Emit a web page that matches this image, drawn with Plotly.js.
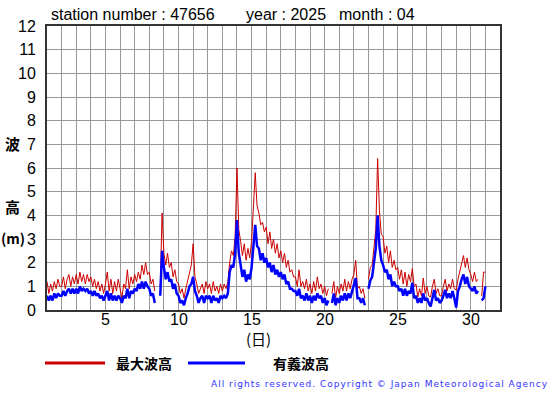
<!DOCTYPE html>
<html>
<head>
<meta charset="utf-8">
<script src="https://cdn.plot.ly/plotly-3.0.1.min.js"></script>
<style>
html,body{margin:0;padding:0;background:#fff;}
#chart{width:555px;height:395px;}
</style>
</head>
<body>
<div id="chart"></div>
<script>
// 3-hourly readings, from 1 Apr 00:00 to 1 May 00:00 (x = day of month)
const stepsPerDay = 8;
const startDay = 1;
const maxWave = [
  1.2,0.7,1.1,0.8,1.2,0.9,1.3,1.0,
  1.0,1.4,0.9,1.3,1.5,1.0,1.4,1.1,
  1.5,1.1,1.6,1.2,1.5,1.1,1.5,1.2,
  1.4,1.0,1.3,0.9,1.2,0.8,1.1,0.7,
  1.1,1.6,0.8,1.3,0.7,1.2,0.8,1.3,
  0.9,0.5,1.1,0.9,1.7,0.9,1.4,1.1,
  1.5,1.2,1.6,1.3,1.9,1.5,2.0,1.5,
  1.6,1.1,1.3,0.8,null,null,1.0,4.1,
  2.4,1.9,2.4,1.8,2.0,1.4,1.7,1.2,
  1.1,0.7,0.9,0.5,0.9,1.2,1.6,1.9,
  2.8,1.4,1.1,0.7,0.9,1.1,0.7,1.2,
  0.9,1.1,0.7,1.2,0.8,1.0,0.7,1.1,
  0.8,1.1,0.9,1.2,2.0,2.5,2.3,3.1,
  6.0,3.4,2.9,2.3,2.8,2.1,2.6,2.2,
  2.9,4.2,5.8,4.4,4.1,3.6,3.7,3.3,
  3.5,2.8,3.3,2.6,3.0,2.4,2.8,2.2,
  2.5,2.0,2.4,1.8,2.1,1.6,1.7,1.4,
  1.4,1.0,1.7,1.0,1.2,0.9,1.3,0.8,
  1.1,0.7,1.2,0.8,1.4,0.9,1.1,0.7,
  1.0,0.6,0.9,null,0.7,1.2,0.5,1.0,
  0.7,1.1,0.8,1.3,0.8,1.2,0.9,1.3,
  1.5,2.1,0.9,1.0,0.7,0.9,0.5,null,
  1.3,1.8,1.9,2.6,3.4,6.4,4.2,3.2,
  3.1,2.4,2.7,2.0,2.5,1.8,2.1,1.7,
  1.8,1.3,1.7,1.1,1.6,1.0,1.5,1.2,
  1.75,1.0,1.1,0.55,0.9,0.6,1.35,0.7,
  1.0,0.6,0.55,1.0,1.3,0.7,0.9,0.6,
  0.6,1.0,1.3,0.8,1.1,0.9,1.3,0.9,
  0.85,1.3,1.6,2.0,2.3,1.8,2.2,1.7,
  1.5,1.2,1.6,1.2,1.3,null,0.6,1.6,
  1.6
];
const sigWave = [
  0.6,0.4,0.6,0.4,0.7,0.5,0.7,0.6,
  0.6,0.8,0.6,0.8,0.9,0.7,0.9,0.7,
  0.9,0.7,1.0,0.8,0.9,0.8,0.9,0.7,
  0.8,0.6,0.8,0.6,0.7,0.5,0.6,0.4,
  0.6,0.8,0.4,0.7,0.4,0.6,0.4,0.6,
  0.5,0.3,0.6,0.5,0.9,0.5,0.8,0.7,
  0.9,0.8,1.1,0.9,1.2,0.9,1.2,1.0,
  0.9,0.6,0.7,0.3,null,null,0.6,2.5,
  1.8,1.3,1.6,1.2,1.3,0.9,1.1,0.7,
  0.6,0.3,0.4,0.2,0.5,0.7,1.0,1.1,
  1.4,0.8,0.6,0.3,0.5,0.6,0.3,0.6,
  0.5,0.6,0.3,0.6,0.4,0.5,0.3,0.6,
  0.5,0.6,0.5,0.7,1.6,1.9,1.8,2.4,
  3.8,2.4,1.9,1.4,1.7,1.2,1.5,1.3,
  1.8,2.8,3.6,2.7,2.6,2.1,2.4,2.0,
  2.2,1.8,2.0,1.6,1.9,1.5,1.7,1.4,
  1.6,1.3,1.5,1.1,1.2,0.9,0.9,0.8,
  0.8,0.6,0.9,0.5,0.6,0.4,0.7,0.4,
  0.6,0.3,0.6,0.4,0.7,0.5,0.6,0.3,
  0.5,0.2,0.4,null,0.3,0.7,0.2,0.5,
  0.3,0.6,0.4,0.7,0.4,0.7,0.5,0.8,
  1.0,1.35,0.5,0.5,0.3,0.5,0.2,null,
  0.9,1.25,1.4,2.0,2.6,4.0,2.7,2.1,
  1.9,1.6,1.7,1.3,1.5,1.0,1.2,1.0,
  1.0,0.8,0.9,0.6,0.9,0.6,0.8,0.7,
  1.15,0.5,0.6,0.3,0.5,0.3,0.7,0.4,
  0.5,0.3,0.15,0.5,0.85,0.4,0.5,0.3,
  0.4,0.6,0.85,0.5,0.7,0.5,0.8,0.5,
  0.1,0.8,1.0,1.3,1.5,1.1,1.4,1.0,
  0.9,0.8,1.0,0.7,0.8,null,0.4,0.5,
  1.0
];
const xTickVals = [5,10,15,20,25,30];
const xTickText = ['5','10','15','20','25','30'];
const seriesNames = ['最大波高','有義波高'];
const titleParts = ['station number : 47656','year : 2025','month : 04'];
const yLabelParts = ['波','高','(m)'];
const xLabel = '(日)';
const copyrightText = 'All rights reserved. Copyright © Japan Meteorological Agency';

const times = maxWave.map((_, i) => startDay + i / stepsPerDay);

const RED = '#cc0000', BLUE = '#0000ff';
const L = 47, T = 26, W = 453, H = 284;
const px = p => (p - L) / W;
const py = p => (T + H - p) / H;

const traces = [
  {x: times, y: maxWave, type: 'scatter', mode: 'lines', name: seriesNames[0],
   line: {color: RED, width: 1}, connectgaps: false, hoverinfo: 'skip'},
  {x: times, y: sigWave, type: 'scatter', mode: 'lines', name: seriesNames[1],
   line: {color: BLUE, width: 2.5}, connectgaps: false, hoverinfo: 'skip'}
];

const tickFont = {family: 'Liberation Sans, Arial, sans-serif', size: 16, color: '#000'};
const jpFont = {family: 'Noto Sans CJK JP, sans-serif', size: 14, color: '#000'};

function ann(text, x, y, opts) {
  return Object.assign({text: text, x: px(x), y: py(y), xref: 'paper', yref: 'paper',
    xanchor: 'center', yanchor: 'middle', showarrow: false, borderpad: 0, font: jpFont}, opts || {});
}

const annotations = [
  ann(titleParts[0], 50, 14, {xanchor: 'left', font: tickFont}),
  ann(titleParts[1], 245, 14, {xanchor: 'left', font: tickFont}),
  ann(titleParts[2], 338, 14, {xanchor: 'left', font: tickFont}),
  ann('<b>' + yLabelParts[0] + '</b>', 12, 143, {font: Object.assign({}, jpFont, {size: 15})}),
  ann('<b>' + yLabelParts[1] + '</b>', 12, 207, {font: Object.assign({}, jpFont, {size: 15})}),
  ann('<b>' + yLabelParts[2] + '</b>', 13, 238, {font: Object.assign({}, jpFont, {size: 14})}),
  ann(xLabel, 258, 338, {font: Object.assign({}, jpFont, {size: 15})}),
  ann('<b>' + seriesNames[0] + '</b>', 115, 363, {xanchor: 'left'}),
  ann('<b>' + seriesNames[1] + '</b>', 272, 363, {xanchor: 'left'}),
  ann(copyrightText, 240, 384, {xanchor: 'left',
    font: {family: 'DejaVu Sans, Verdana, sans-serif', size: 9, color: '#3333ff'}})
];
// x-axis tick labels placed through the x scale
xTickVals.forEach((v, i) => {
  annotations.push({text: xTickText[i], x: v, xref: 'x', y: py(319), yref: 'paper',
    xanchor: 'center', yanchor: 'middle', showarrow: false, borderpad: 0, font: tickFont});
});

const shapes = [
  {type: 'line', xref: 'paper', yref: 'paper', x0: px(45), x1: px(105), y0: py(363), y1: py(363), line: {color: RED, width: 3}},
  {type: 'line', xref: 'paper', yref: 'paper', x0: px(188), x1: px(245), y0: py(363), y1: py(363), line: {color: BLUE, width: 3}}
];

const layout = {
  width: 555, height: 395,
  margin: {l: L, r: 555 - L - W, t: T, b: 395 - T - H, pad: 0},
  paper_bgcolor: '#fff', plot_bgcolor: '#fff',
  showlegend: false,
  xaxis: {
    range: [1, 32], tickmode: 'array', tickvals: xTickVals, ticktext: xTickText,
    showticklabels: false,
    showgrid: true, gridcolor: '#999', gridwidth: 1,
    minor: {tickmode: 'linear', tick0: 0, dtick: 1, showgrid: true, gridcolor: '#999', gridwidth: 1, ticks: ''},
    showline: true, linecolor: '#333', linewidth: 2, mirror: true,
    ticks: '', zeroline: false, fixedrange: true
  },
  yaxis: {
    range: [0, 12], dtick: 1, tick0: 0,
    showgrid: true, gridcolor: '#999', gridwidth: 1,
    showline: true, linecolor: '#333', linewidth: 2, mirror: true,
    ticks: '', tickfont: tickFont, zeroline: false, fixedrange: true, ticklabelstandoff: 6
  },
  annotations: annotations,
  shapes: shapes
};

Plotly.newPlot('chart', traces, layout, {staticPlot: true, displayModeBar: false}).then(() => {
  const anns = document.querySelectorAll('.annotation-text');
  anns.forEach(a => { if (a.textContent === copyrightText) a.style.letterSpacing = '1px'; });
});
</script>
</body>
</html>
